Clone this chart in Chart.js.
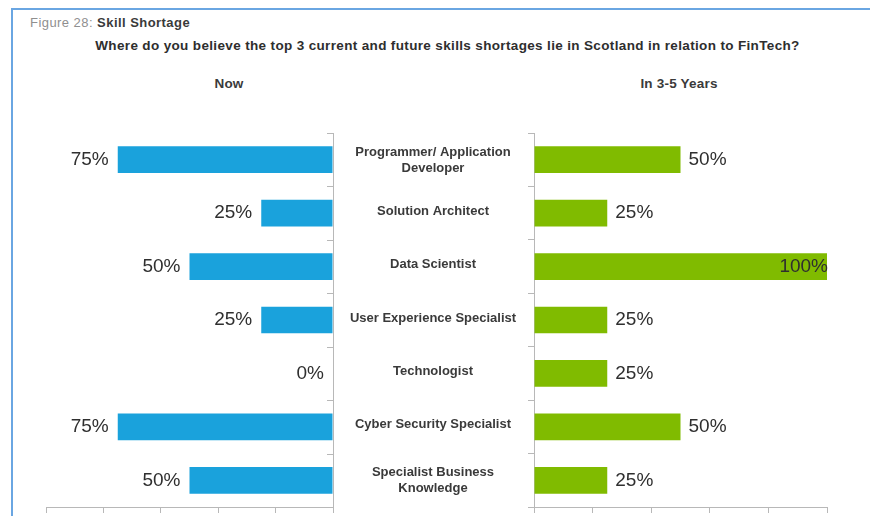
<!DOCTYPE html>
<html>
<head>
<meta charset="utf-8">
<script src="https://cdn.jsdelivr.net/npm/chart.js@4/dist/chart.umd.min.js"></script>
<style>
  html, body { margin: 0; padding: 0; background: #fff; }
  body { width: 873px; height: 516px; position: relative; overflow: hidden;
         font-family: "Liberation Sans", Arial, sans-serif; color: #333; }
  .frame-left { position: absolute; left: 11px; top: 8px; width: 2px; height: 508px; background: #6aa6e2; }
  .frame-top { position: absolute; left: 11px; top: 8px; width: 859px; height: 2px; background: #6aa6e2; }
  .fig { position: absolute; left: 30px; top: 15px; font-size: 13px; color: #8f8f8f; white-space: nowrap; letter-spacing: 0.45px; }
  .fig b { color: #3a3a3a; }
  .title { position: absolute; left: 0; width: 895px; top: 38px; text-align: center; font-size: 13.5px; font-weight: bold; color: #2e2e2e; white-space: nowrap; letter-spacing: 0.35px; }
  .sub { position: absolute; top: 76px; font-size: 13.5px; font-weight: bold; color: #3a3a3a; text-align: center; width: 200px; letter-spacing: 0.2px; }
  canvas { position: absolute; left: 0; top: 0; }
</style>
</head>
<body>
<div class="frame-left"></div>
<div class="frame-top"></div>
<div class="fig">Figure 28: <b>Skill Shortage</b></div>
<div class="title">Where do you believe the top 3 current and future skills shortages lie in Scotland in relation to FinTech?</div>
<div class="sub" style="left:129px">Now</div>
<div class="sub" style="left:579px">In 3-5 Years</div>
<canvas id="nowChart" width="873" height="516"></canvas>
<canvas id="futureChart" width="873" height="516"></canvas>
<script>
// Skill areas (row order top to bottom)
const skills = [
  ['Programmer/ Application', 'Developer'],
  'Solution Architect',
  'Data Scientist',
  'User Experience Specialist',
  'Technologist',
  'Cyber Security Specialist',
  ['Specialist Business', 'Knowledge']
];
// Share of respondents (%)
const nowValues = [75, 25, 50, 25, 0, 75, 50];
const futureValues = [50, 25, 100, 25, 25, 50, 25];
// Value axis range
const axisMin = 0, axisMax = 100, axisStep = 20;

const BLUE = '#1aa2dc';
const GREEN = '#80bb00';
const AXIS = '#b8b8b8';
const FONT = '"Liberation Sans", Arial, sans-serif';

// Percent labels at the end of each bar
const valueLabels = {
  id: 'valueLabels',
  afterDatasetsDraw(chart, args, opts) {
    const ctx = chart.ctx;
    const meta = chart.getDatasetMeta(0);
    const data = chart.data.datasets[0].data;
    ctx.save();
    ctx.font = '19px ' + FONT;
    ctx.fillStyle = '#2f2f2f';
    ctx.textBaseline = 'middle';
    meta.data.forEach((bar, i) => {
      const txt = data[i] + '%';
      const w = ctx.measureText(txt).width;
      if (opts.side === 'left') {
        ctx.textAlign = 'right';
        ctx.fillText(txt, bar.x - 9, bar.y);
      } else {
        if (bar.x + 9 + w > chart.chartArea.right + 20) {
          ctx.textAlign = 'right';
          ctx.fillText(txt, bar.x + 1, bar.y);
        } else {
          ctx.textAlign = 'left';
          ctx.fillText(txt, bar.x + 8, bar.y);
        }
      }
    });
    ctx.restore();
  }
};

// Short tick marks between rows, pointing into the left plot
const rowTicks = {
  id: 'rowTicks',
  afterDraw(chart) {
    const y = chart.scales.y;
    const x0 = chart.chartArea.right;
    const ctx = chart.ctx;
    ctx.save();
    ctx.strokeStyle = AXIS;
    ctx.lineWidth = 1;
    for (let i = 0; i <= skills.length; i++) {
      const py = Math.round(y.getPixelForValue(i - 0.5)) + 0.5;
      ctx.beginPath();
      ctx.moveTo(x0 - 6, py);
      ctx.lineTo(x0, py);
      ctx.stroke();
    }
    ctx.restore();
  }
};

// Skill names centred in the gap between the two plots
const skillNames = {
  id: 'skillNames',
  afterDraw(chart) {
    const y = chart.scales.y;
    const ctx = chart.ctx;
    const cx = 433;
    ctx.save();
    ctx.font = 'bold 13px ' + FONT;
    ctx.fillStyle = '#3a3a3a';
    ctx.textAlign = 'center';
    ctx.textBaseline = 'middle';
    skills.forEach((s, i) => {
      const lines = Array.isArray(s) ? s : [s];
      const py = y.getPixelForValue(i) - (lines.length > 1 ? -0.5 : 2);
      const lh = 16;
      lines.forEach((ln, k) => {
        ctx.fillText(ln, cx, py + (k - (lines.length - 1) / 2) * lh);
      });
    });
    ctx.restore();
  }
};

function xScale(reverse) {
  return {
    type: 'linear', min: axisMin, max: axisMax, reverse,
    ticks: { display: false, stepSize: axisStep },
    grid: { drawOnChartArea: false, drawTicks: true, tickLength: 6, color: AXIS },
    border: { color: AXIS },
    afterFit(s) { s.height = 9; }
  };
}

// "Now" – bars grow leftwards from the centre
new Chart(document.getElementById('nowChart'), {
  type: 'bar',
  data: {
    labels: skills,
    datasets: [{ data: nowValues, backgroundColor: BLUE, barPercentage: 0.5, categoryPercentage: 1 }]
  },
  options: {
    indexAxis: 'y', responsive: false, animation: false,
    layout: { padding: { left: 46, right: 540, top: 133, bottom: 0 } },
    scales: {
      x: xScale(true),
      y: {
        position: 'right', offset: true,
        ticks: { display: false },
        grid: { display: true, drawOnChartArea: false, drawTicks: false },
        border: { color: AXIS },
        afterFit(s) { s.width = 0; }
      }
    },
    plugins: { legend: { display: false }, tooltip: { enabled: false }, valueLabels: { side: 'left' } }
  },
  plugins: [valueLabels, rowTicks, skillNames]
});

// "In 3-5 Years" – bars grow rightwards
new Chart(document.getElementById('futureChart'), {
  type: 'bar',
  data: {
    labels: skills,
    datasets: [{ data: futureValues, backgroundColor: GREEN, barPercentage: 0.5, categoryPercentage: 1 }]
  },
  options: {
    indexAxis: 'y', responsive: false, animation: false,
    layout: { padding: { left: 528, right: 46, top: 133, bottom: 0 } },
    scales: {
      x: xScale(false),
      y: {
        position: 'left', offset: true,
        ticks: { display: false },
        grid: { drawOnChartArea: false, drawTicks: true, tickLength: 6, color: AXIS, offset: true },
        border: { color: AXIS },
        afterFit(s) { s.width = 6; }
      }
    },
    plugins: { legend: { display: false }, tooltip: { enabled: false }, valueLabels: { side: 'right' } }
  },
  plugins: [valueLabels]
});
</script>
</body>
</html>
